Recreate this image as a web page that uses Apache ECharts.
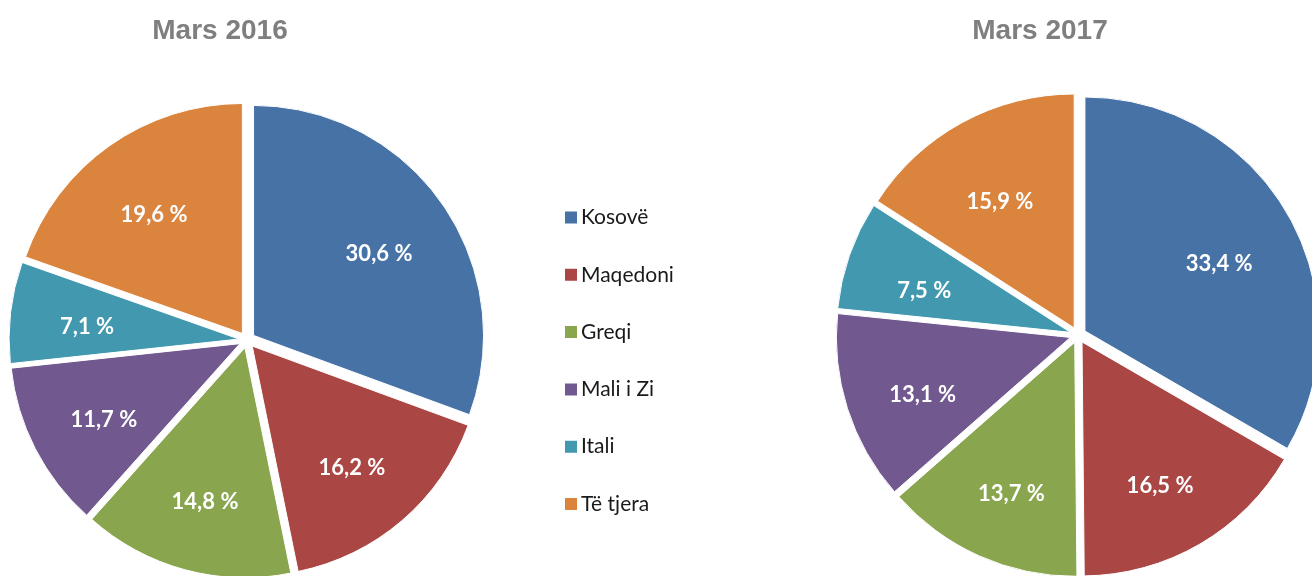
<!DOCTYPE html>
<html>
<head>
<meta charset="utf-8">
<script src="https://cdn.jsdelivr.net/npm/echarts@6/dist/echarts.min.js"></script>
<style>
  body, html { margin: 0; padding: 0; background: #ffffff; }
  #chart { width: 1312px; height: 576px; }
</style>
</head>
<body>
<div id="chart"></div>
<script type="text/javascript">
  // shares by destination, percent
  const categories = ["Kosovë", "Maqedoni", "Greqi", "Mali i Zi", "Itali", "Të tjera"];
  const values2016 = [30.6, 16.2, 14.8, 11.7, 7.1, 19.6];
  const values2017 = [33.4, 16.5, 13.7, 13.1, 7.5, 15.9];
  const titles = ["Mars 2016", "Mars 2017"];
  const colors = ["#4672A6", "#AA4643", "#89A54E", "#71588F", "#4198AF", "#DB843D"];

  let chart = echarts.init(document.getElementById("chart"));

  function toData(values) {
    return categories.map((name, i) => ({ name: name, value: values[i], selected: true }));
  }

  function formatPct(v) {
    return v.toFixed(1).replace(".", ",") + " %";
  }

  // visible slices, exploded a bit
  function pieSeries(values, center, radius) {
    return {
      type: "pie",
      center: center,
      radius: radius,
      startAngle: 90,
      clockwise: true,
      selectedMode: "multiple",
      selectedOffset: 8,
      data: toData(values),
      itemStyle: { borderColor: "#ffffff", borderWidth: 1 },
      select: { itemStyle: { borderColor: "#ffffff", borderWidth: 1 } },
      label: { show: false },
      labelLine: { show: false },
      emphasis: { disabled: true },
      silent: true,
    };
  }

  // transparent ring only to place the labels further out than half radius
  function labelSeries(values, center, radius, dy) {
    return {
      type: "pie",
      center: center,
      radius: radius,
      startAngle: 90,
      clockwise: true,
      selectedMode: "multiple",
      selectedOffset: 8,
      data: toData(values),
      itemStyle: { color: "rgba(0,0,0,0)" },
      select: { itemStyle: { color: "rgba(0,0,0,0)", borderWidth: 0 } },
      label: {
        show: true,
        position: "inside",
        color: "#ffffff",
        fontFamily: "Lato",
        fontWeight: "bold",
        fontSize: 22,
        formatter: function (p) {
          return formatPct(p.value);
        },
      },
      labelLayout: { dy: dy },
      labelLine: { show: false },
      emphasis: { disabled: true },
      silent: true,
    };
  }

  let titleStyle = { fontFamily: "Liberation Sans, Arial", fontWeight: "bold", fontSize: 28, color: "#7F7F7F" };

  let option = {
    animation: false,
    color: colors,
    title: [
      { text: titles[0], left: 215, top: 12, textAlign: "center", textStyle: titleStyle },
      { text: titles[1], left: 1035, top: 12, textAlign: "center", textStyle: titleStyle },
    ],
    legend: {
      orient: "vertical",
      left: 563,
      top: 207,
      padding: 0,
      data: categories,
      icon: "rect",
      itemWidth: 14,
      itemHeight: 14,
      itemGap: 36.3,
      textStyle: { fontFamily: "Lato", fontSize: 21, color: "#1a1a1a", padding: [0, 0, 0, -2] },
    },
    series: [
      pieSeries(values2016, [247, 340], [0, 230]),
      labelSeries(values2016, [247, 340], [70, 230], 6),
      pieSeries(values2017, [1078, 335], [0, 234]),
      labelSeries(values2017, [1078, 335], [70, 234], 10),
    ],
  };
  chart.setOption(option);
</script>
</body>
</html>
